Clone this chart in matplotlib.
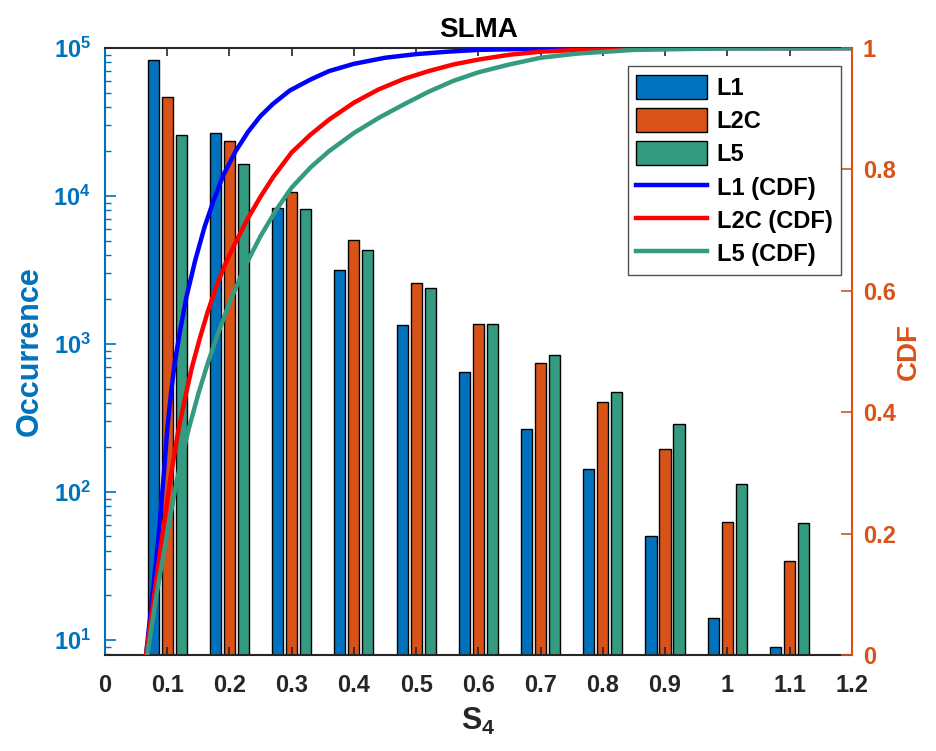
import matplotlib
matplotlib.use("Agg")
import matplotlib.pyplot as plt
import numpy as np

plt.rcParams['font.family'] = ['Liberation Sans', 'DejaVu Sans']
plt.rcParams['font.weight'] = 'bold'
plt.rcParams['mathtext.fontset'] = 'custom'
plt.rcParams['mathtext.rm'] = 'Liberation Sans:bold'
plt.rcParams['mathtext.bf'] = 'Liberation Sans:bold'
plt.rcParams['mathtext.it'] = 'Liberation Sans:bold'

# S4 bin centres and occurrence per signal
s4_bins = [0.1, 0.2, 0.3, 0.4, 0.5, 0.6, 0.7, 0.8, 0.9, 1.0, 1.1]
occ_l1 = [83400, 26700, 8260, 3180, 1350, 643, 268, 144, 50, 14, 9]
occ_l2c = [46800, 23600, 10600, 5050, 2590, 1360, 740, 403, 195, 63, 34]
occ_l5 = [25800, 16500, 8140, 4300, 2400, 1370, 838, 471, 286, 113, 62]

# cumulative distribution curves
cdf_l1_x = [0.066, 0.076, 0.086, 0.094, 0.100, 0.106, 0.112, 0.120, 0.131, 0.145,
            0.160, 0.175, 0.19, 0.21, 0.23, 0.25, 0.27, 0.297, 0.33, 0.36,
            0.40, 0.45, 0.50, 0.55, 0.60, 0.70, 0.85, 1.2]
cdf_l1_y = [0.0, 0.095, 0.194, 0.29, 0.37, 0.43, 0.48, 0.53, 0.59, 0.65,
            0.705, 0.75, 0.79, 0.83, 0.862, 0.888, 0.908, 0.93, 0.948, 0.962,
            0.974, 0.984, 0.99, 0.994, 0.997, 0.999, 1.0, 1.0]
cdf_l2c_x = [0.066, 0.078, 0.092, 0.105, 0.118, 0.128, 0.140, 0.152, 0.165, 0.180,
             0.195, 0.21, 0.23, 0.25, 0.27, 0.30, 0.33, 0.36, 0.40, 0.44,
             0.48, 0.52, 0.56, 0.60, 0.65, 0.70, 0.76, 0.85, 1.0, 1.2]
cdf_l2c_y = [0.0, 0.09, 0.194, 0.29, 0.37, 0.42, 0.475, 0.52, 0.565, 0.61,
             0.648, 0.68, 0.72, 0.755, 0.787, 0.828, 0.857, 0.882, 0.91, 0.932,
             0.949, 0.962, 0.973, 0.981, 0.989, 0.994, 0.997, 0.999, 1.0, 1.0]
cdf_l5_x = [0.068, 0.083, 0.099, 0.115, 0.134, 0.150, 0.165, 0.180, 0.20, 0.225,
            0.25, 0.275, 0.30, 0.33, 0.36, 0.40, 0.44, 0.48, 0.52, 0.56,
            0.60, 0.65, 0.70, 0.76, 0.85, 1.0, 1.2]
cdf_l5_y = [0.0, 0.10, 0.194, 0.285, 0.37, 0.43, 0.48, 0.525, 0.58, 0.64,
            0.69, 0.733, 0.77, 0.803, 0.83, 0.86, 0.885, 0.907, 0.928, 0.946,
            0.96, 0.973, 0.984, 0.991, 0.997, 0.9995, 1.0]

x_ticks = [0, 0.1, 0.2, 0.3, 0.4, 0.5, 0.6, 0.7, 0.8, 0.9, 1.0, 1.1, 1.2]
x_tick_labels = ['0', '0.1', '0.2', '0.3', '0.4', '0.5', '0.6', '0.7', '0.8', '0.9', '1', '1.1', '1.2']
cdf_ticks = [0, 0.2, 0.4, 0.6, 0.8, 1.0]
cdf_tick_labels = ['0', '0.2', '0.4', '0.6', '0.8', '1']

c_l1 = '#0072BD'
c_l2c = '#D95319'
c_l5 = '#349A80'
c_axis = '#262626'

fig = plt.figure(figsize=(9.37, 7.51), dpi=100)
ax = fig.add_axes([0.112, 0.128, 0.797, 0.808])
ax2 = ax.twinx()

x = np.array(s4_bins)
off = 0.0225
w = 0.0178
b1 = ax.bar(x - off, occ_l1, w, color=c_l1, edgecolor='black', linewidth=1.0, label='L1')
b2 = ax.bar(x, occ_l2c, w, color=c_l2c, edgecolor='black', linewidth=1.0, label='L2C')
b3 = ax.bar(x + off, occ_l5, w, color=c_l5, edgecolor='black', linewidth=1.0, label='L5')

ax.set_yscale('log')
ax.set_ylim(7.92, 1e5)
ax.set_xlim(0, 1.2)

l1, = ax2.plot(cdf_l1_x, cdf_l1_y, color='#0000FF', lw=3.2, label='L1 (CDF)', solid_joinstyle='round')
l2, = ax2.plot(cdf_l2c_x, cdf_l2c_y, color='#FF0000', lw=3.2, label='L2C (CDF)', solid_joinstyle='round')
l3, = ax2.plot(cdf_l5_x, cdf_l5_y, color=c_l5, lw=3.2, label='L5 (CDF)', solid_joinstyle='round')
ax2.set_ylim(0, 1)

fs = 17
ax.set_xticks(x_ticks)
ax.set_xticklabels(x_tick_labels, fontsize=fs, fontweight='bold', color=c_axis)
ax.set_yticks([10, 100, 1000, 10000, 100000])
ax.set_yticklabels([r'$\mathbf{10^{%d}}$' % k for k in range(1, 6)], fontsize=fs, color=c_l1)
ax2.set_yticks(cdf_ticks)
ax2.set_yticklabels(cdf_tick_labels, fontsize=fs, fontweight='bold', color=c_l2c)

ax.tick_params(axis='x', which='both', direction='in', top=True, length=6, width=1.2, color=c_axis, pad=14)
ax.tick_params(axis='y', which='major', direction='in', length=8, width=1.2, color=c_l1, pad=10)
ax.tick_params(axis='y', which='minor', direction='in', length=4, width=1.0, color=c_l1)
ax2.tick_params(axis='y', which='major', direction='in', length=8, width=1.2, color=c_l2c, pad=8)

ax.spines['left'].set_color(c_l1)
ax.spines['left'].set_linewidth(1.5)
ax.spines['bottom'].set_color(c_axis)
ax.spines['top'].set_color(c_axis)
ax.spines['bottom'].set_linewidth(1.5)
ax.spines['top'].set_linewidth(1.5)
ax2.spines['right'].set_color(c_l2c)
ax2.spines['right'].set_linewidth(1.5)
ax2.spines['left'].set_visible(False)
ax2.spines['top'].set_visible(False)
ax2.spines['bottom'].set_visible(False)
ax.spines['right'].set_visible(False)

ax.set_xlabel(r'$\mathbf{S_4}$', fontsize=22, color=c_axis, labelpad=6)
ax.set_ylabel('Occurrence', fontsize=22, fontweight='bold', color=c_l1, labelpad=6)
ax2.set_ylabel('CDF', fontsize=20, fontweight='bold', color=c_l2c, rotation=90,
               va='center', ha='center')
ax2.yaxis.set_label_coords(1.076, 0.5)
ax.set_title('SLMA', fontsize=20, fontweight='bold', pad=8)

handles = [b1, b2, b3, l1, l2, l3]
leg = ax2.legend(handles=handles, loc='upper right', bbox_to_anchor=(0.985, 0.97),
                 prop={'weight': 'bold', 'size': 17}, frameon=True, fancybox=False,
                 edgecolor=c_axis, handlelength=3.0, handleheight=1.2,
                 borderpad=0.35, labelspacing=0.35, handletextpad=0.4, borderaxespad=0)
leg.get_frame().set_linewidth(1.0)

fig.savefig('out.png', dpi=100)
